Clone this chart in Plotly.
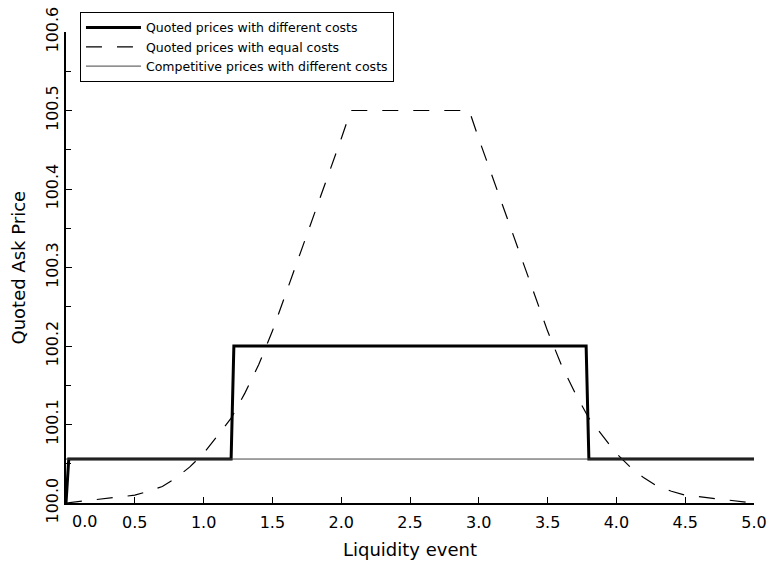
import plotly.graph_objects as go

# Quoted prices with different costs (thick solid)
diff_x = [0.0, 0.02, 1.20, 1.22, 3.78, 3.80, 5.0]
diff_y = [100.0, 100.056, 100.056, 100.2, 100.2, 100.056, 100.056]

# Quoted prices with equal costs (dashed)
eq_x = [0.0, 0.1, 0.25, 0.4, 0.5, 0.6, 0.7, 0.8, 0.9, 1.0, 1.1, 1.2, 1.3, 1.4, 1.5,
        1.75, 2.0, 2.07, 2.5, 2.93, 3.0, 3.25, 3.5, 3.6, 3.7, 3.8, 3.9, 4.0, 4.1,
        4.2, 4.3, 4.4, 4.5, 4.6, 4.75, 4.9, 5.0]
eq_y = [100.0, 100.002, 100.005, 100.008, 100.010, 100.015, 100.021, 100.032, 100.046,
        100.063, 100.086, 100.108, 100.140, 100.176, 100.219, 100.341, 100.464, 100.500,
        100.500, 100.500, 100.464, 100.341, 100.219, 100.176, 100.140, 100.108, 100.086,
        100.063, 100.046, 100.032, 100.021, 100.015, 100.010, 100.008, 100.005, 100.002,
        100.0]

# Competitive prices with different costs (thin solid)
comp_x = [0.0, 5.0]
comp_y = [100.056, 100.056]

x_ticks = [0.0, 0.5, 1.0, 1.5, 2.0, 2.5, 3.0, 3.5, 4.0, 4.5, 5.0]
x_ticktext = ["", "0.5", "1.0", "1.5", "2.0", "2.5", "3.0", "3.5", "4.0", "4.5", "5.0"]
y_ticks = [100.0, 100.1, 100.2, 100.3, 100.4, 100.5, 100.6]
y_ticktext = ["100.0", "100.1", "100.2", "100.3", "100.4", "100.5", "100.6"]
y_minor = [100.05, 100.15, 100.25, 100.35, 100.45, 100.55]

x_title = "Liquidity event"
y_title = "Quoted Ask Price"

FONT = "DejaVu Sans"

fig = go.Figure()
fig.add_trace(go.Scatter(x=diff_x, y=diff_y, mode="lines",
                         name="Quoted prices with different costs",
                         line=dict(color="black", width=3)))
fig.add_trace(go.Scatter(x=eq_x, y=eq_y, mode="lines",
                         name="Quoted prices with equal costs",
                         line=dict(color="black", width=1.2, dash="16px,15px")))
fig.add_trace(go.Scatter(x=comp_x, y=comp_y, mode="lines",
                         name="Competitive prices with different costs",
                         line=dict(color="#444", width=1)))

# first x tick label sits just right of the y axis, as in the reference
fig.add_annotation(x=0.0, y=0, xref="x", yref="paper", text="0.0",
                   showarrow=False, yanchor="top", xshift=18, yshift=-7,
                   font=dict(family=FONT, size=16, color="black"))
# axis titles
fig.add_annotation(x=0.5, y=0, xref="paper", yref="paper", text=x_title,
                   showarrow=False, xanchor="center", yanchor="middle", yshift=-46,
                   font=dict(family=FONT, size=18, color="black"))
fig.add_annotation(x=0, y=0.5, xref="paper", yref="paper", text=y_title,
                   showarrow=False, textangle=-90, xanchor="center", yanchor="middle",
                   xshift=-48, font=dict(family=FONT, size=18, color="black"))

fig.update_layout(
    width=771, height=567,
    margin=dict(l=66, r=17, t=32, b=64, autoexpand=False),
    paper_bgcolor="white", plot_bgcolor="white",
    font=dict(family=FONT, size=16, color="black"),
    showlegend=True,
    legend=dict(x=0.0203, y=1.0425, xanchor="left", yanchor="top",
                bordercolor="black", borderwidth=1, bgcolor="white",
                font=dict(family=FONT, size=12.5, color="black"),
                itemwidth=55, tracegroupgap=0),
    xaxis=dict(range=[0, 5], tickvals=x_ticks, ticktext=x_ticktext,
               ticks="inside", ticklen=6, tickwidth=1, tickcolor="black",
               ticklabelstandoff=4, automargin=False,
               showline=True, linecolor="black", linewidth=2, mirror=False,
               showgrid=False, zeroline=False),
    yaxis=dict(range=[100.0, 100.6], tickvals=y_ticks, ticktext=y_ticktext,
               ticks="inside", ticklen=6, tickwidth=1, tickcolor="black",
               tickangle=-90, automargin=False,
               minor=dict(tickvals=y_minor,
                          ticks="inside", ticklen=5, tickcolor="black", tickwidth=1),
               showline=True, linecolor="black", linewidth=2, mirror=False,
               showgrid=False, zeroline=False),
)

fig.write_html("out.html",
               config={"displayModeBar": False},
               post_script="document.body.style.margin='0px';")
